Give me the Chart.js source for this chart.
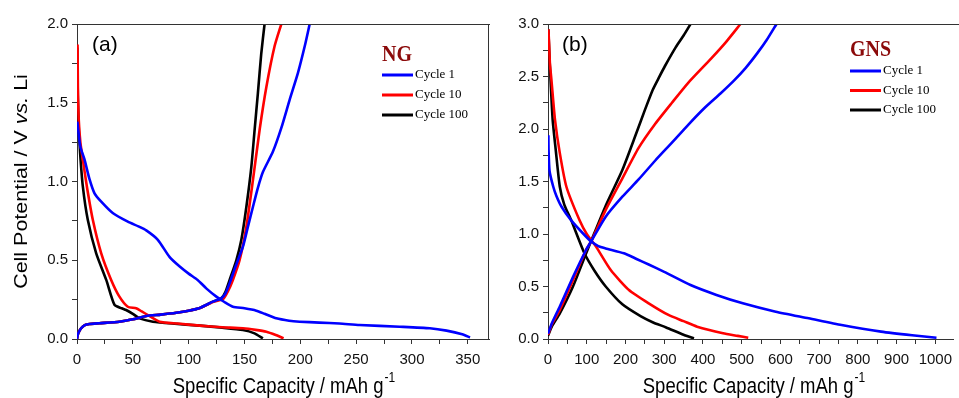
<!DOCTYPE html>
<html>
<head>
<meta charset="utf-8">
<script src="https://cdn.jsdelivr.net/npm/chart.js@4.4.1/dist/chart.umd.min.js"></script>
<style>
  html, body { margin: 0; padding: 0; background: #fff; }
  #wrap { position: relative; width: 959px; height: 398px; overflow: hidden; }
  canvas { position: absolute; top: 0; }
  #chartA { left: 0; }
  #chartB { left: 490px; }
</style>
</head>
<body>
<div id="wrap">
  <canvas id="chartA" width="490" height="398"></canvas>
  <canvas id="chartB" width="469" height="398"></canvas>
</div>
<script>
// legend names and colours, same for both panels
var cycleNames = ["Cycle 1", "Cycle 10", "Cycle 100"];
var cycleColors = ["#0000FF", "#FF0000", "#000000"];

// (a) NG : [capacity mAh/g, potential V]
var ngC1Discharge = [[0.3,1.38],[3,1.22],[6.7,1.14],[11,1.02],[15.7,0.925],[21.7,0.872],[32,0.80],[45.5,0.745],[55,0.715],[62,0.69],[72.4,0.63],[83,0.52],[92,0.46],[100,0.415],[108,0.375],[116,0.32],[124.8,0.269],[132,0.235],[139.6,0.205],[150,0.195],[160.6,0.18],[168,0.16],[178.5,0.131],[190,0.116],[199.4,0.11],[217,0.104],[235,0.098],[253,0.089],[289,0.078],[316,0.068],[331,0.053],[345,0.03],[352,0.01]];
var ngC1Charge = [[0,0],[1,0.035],[3.7,0.068],[7,0.088],[11.2,0.095],[20,0.10],[38,0.11],[50,0.125],[62,0.146],[75,0.155],[89,0.167],[100,0.18],[110,0.197],[121.7,0.237],[129.2,0.258],[133,0.29],[137,0.36],[142,0.46],[148.6,0.586],[153,0.71],[157.6,0.84],[162,0.96],[166.5,1.06],[175.5,1.19],[183,1.34],[190.5,1.52],[197.9,1.69],[204,1.86],[208.4,2.0]];
var ngC10Discharge = [[0.5,1.87],[0.8,1.6],[1.5,1.4],[3,1.25],[5.2,1.14],[8.8,0.97],[14.2,0.755],[21.7,0.544],[30.6,0.375],[38,0.269],[45.5,0.205],[53,0.195],[58,0.175],[63.5,0.152],[74,0.11],[90,0.098],[110,0.085],[130,0.075],[148.6,0.068],[160,0.058],[169.6,0.046],[178,0.025],[185,0.004]];
var ngC10Charge = [[0,0],[1,0.035],[3.7,0.068],[7,0.088],[11.2,0.095],[20,0.10],[38,0.11],[50,0.125],[62,0.146],[75,0.155],[89,0.167],[100,0.18],[110,0.197],[121.7,0.235],[131,0.255],[135,0.3],[139.6,0.375],[145.6,0.50],[151.7,0.713],[157.6,1.01],[163.6,1.33],[169.6,1.60],[177,1.86],[183,2.0]];
var ngC100Discharge = [[0.3,1.85],[0.7,1.55],[1.5,1.35],[2.8,1.18],[5.2,0.97],[9.7,0.755],[17.2,0.544],[26.2,0.375],[33.6,0.216],[40,0.195],[44,0.184],[50,0.16],[56,0.131],[68,0.11],[85,0.098],[110,0.085],[130,0.072],[148.6,0.057],[159,0.036],[166.5,0.004]];
var ngC100Charge = [[0,0],[1,0.035],[3.7,0.068],[7,0.088],[11.2,0.095],[20,0.10],[38,0.11],[50,0.125],[62,0.146],[75,0.155],[89,0.167],[100,0.18],[110,0.197],[121.7,0.237],[129.2,0.258],[133,0.3],[136.7,0.375],[142.7,0.50],[147.2,0.63],[151.7,0.84],[156.1,1.09],[159.1,1.33],[162,1.56],[165,1.81],[168,2.0]];

// (b) GNS
var gnsC1Discharge = [[1,1.94],[1.5,1.8],[4,1.6],[13.6,1.45],[22,1.36],[35,1.26],[60,1.13],[90,1.007],[111,0.93],[130,0.885],[149,0.863],[196,0.816],[230,0.76],[260,0.71],[300,0.64],[368,0.514],[435,0.42],[503,0.34],[588,0.26],[673,0.197],[758,0.133],[860,0.07],[940,0.035],[1003,0.012]];
var gnsC1Charge = [[0,0.05],[10,0.15],[30.5,0.31],[64.5,0.59],[98.5,0.85],[111,0.927],[149,1.165],[192,1.355],[234,1.52],[277,1.70],[320,1.87],[362,2.04],[404,2.20],[446,2.34],[480,2.46],[510,2.58],[540,2.72],[565,2.85],[590,3.0]];
var gnsC10Discharge = [[1,2.95],[3,2.8],[5,2.62],[9.3,2.45],[18,2.09],[30.5,1.77],[47.5,1.45],[81.5,1.13],[100,1.0],[124,0.88],[162,0.657],[209,0.467],[260,0.34],[311,0.229],[350,0.17],[385,0.117],[452,0.054],[490,0.03],[517,0.012]];
var gnsC10Charge = [[0,0.04],[10,0.14],[30.5,0.276],[64.5,0.56],[98.5,0.85],[111,0.927],[149,1.23],[192,1.53],[234,1.82],[277,2.05],[320,2.25],[362,2.44],[421,2.67],[460,2.83],[497,3.0]];
var gnsC100Discharge = [[1,2.95],[3,2.75],[6.8,2.45],[12,2.09],[20,1.8],[30.5,1.45],[42,1.28],[60,1.13],[94,0.816],[120,0.65],[149,0.50],[192,0.33],[240,0.215],[270,0.16],[305,0.11],[350,0.04],[377,0.006]];
var gnsC100Charge = [[0,0.03],[10,0.12],[30.5,0.244],[64.5,0.50],[98.5,0.816],[111,0.93],[149,1.27],[192,1.61],[226,1.94],[250,2.18],[270,2.37],[285,2.48],[302,2.60],[330,2.78],[350,2.89],[368,3.0]];

var axisColor = "#333333";
var sansFont = "'Liberation Sans', Arial, sans-serif";
var serifFont = "'Liberation Serif', 'Times New Roman', serif";

function toPoints(arr) {
    return arr.map(function (p) { return { x: p[0], y: p[1] }; });
}

function makeDatasets(discharges, charges) {
    var sets = [];
    for (var i = 0; i < cycleNames.length; i++) {
        sets.push({ label: cycleNames[i], data: toPoints(discharges[i]), borderColor: cycleColors[i] });
        sets.push({ label: cycleNames[i], data: toPoints(charges[i]), borderColor: cycleColors[i] });
    }
    sets.forEach(function (s) {
        s.borderWidth = 2.6;
        s.pointRadius = 0;
        s.tension = 0.2;
        s.fill = false;
    });
    return sets;
}

// writes text with a small vertical stretch, like the original figure
function stretchedText(ctx, text, x, y, sy) {
    ctx.save();
    ctx.translate(x, y);
    ctx.scale(1, sy);
    ctx.fillText(text, 0, 0);
    ctx.restore();
}

// draws frame, panel letter, legend and axis titles
function panelDeco(o) {
    return {
        id: "deco" + o.letter,
        afterDraw: function (chart) {
            var ctx = chart.ctx, a = chart.chartArea;
            ctx.save();

            ctx.strokeStyle = axisColor;
            ctx.lineWidth = 1;
            ctx.beginPath();
            ctx.moveTo(a.left, a.top + 0.5);
            ctx.lineTo(chart.width, a.top + 0.5);
            if (o.rightFrame) {
                ctx.moveTo(a.right - 0.5, a.top);
                ctx.lineTo(a.right - 0.5, a.bottom);
            }
            ctx.stroke();

            ctx.fillStyle = "#000";
            ctx.textAlign = "left";
            ctx.textBaseline = "middle";
            ctx.font = "21px " + sansFont;
            ctx.fillText(o.letter, o.letterX, 45);

            // legend
            ctx.textBaseline = "alphabetic";
            ctx.fillStyle = "#8B0A0A";
            ctx.font = "bold 20px " + serifFont;
            stretchedText(ctx, o.title, o.legX, o.titleY, 1.16);
            ctx.font = "13px " + serifFont;
            ctx.textBaseline = "middle";
            for (var i = 0; i < cycleNames.length; i++) {
                var ry = o.rowY + i * o.rowGap;
                ctx.strokeStyle = cycleColors[i];
                ctx.lineWidth = 3;
                ctx.beginPath();
                ctx.moveTo(o.legX, ry);
                ctx.lineTo(o.legX + 31, ry);
                ctx.stroke();
                ctx.fillStyle = "#000";
                ctx.fillText(cycleNames[i], o.legX + 33, ry);
            }

            // x title with superscript
            ctx.textBaseline = "alphabetic";
            ctx.font = "18.5px " + sansFont;
            var main = "Specific Capacity / mAh g";
            var wMain = ctx.measureText(main).width;
            ctx.font = "12px " + sansFont;
            var wSup = ctx.measureText("-1").width;
            var cx = (a.left + chart.width) / 2;
            var x0 = cx - (wMain + wSup) / 2;
            ctx.font = "18.5px " + sansFont;
            stretchedText(ctx, main, x0, 393, 1.16);
            ctx.font = "12px " + sansFont;
            stretchedText(ctx, "-1", x0 + wMain + 1, 382, 1.16);

            // y title
            if (o.yTitle) {
                var parts = [["Cell Potential / V ", ""], ["vs.", "italic "], [" Li", ""]];
                var total = 0;
                parts.forEach(function (p) {
                    ctx.font = p[1] + "18.5px " + sansFont;
                    total += ctx.measureText(p[0]).width;
                });
                ctx.save();
                ctx.translate(27, (a.top + a.bottom) / 2);
                ctx.rotate(-Math.PI / 2);
                ctx.scale(1.16, 1);
                var px = -total / 2;
                parts.forEach(function (p) {
                    ctx.font = p[1] + "18.5px " + sansFont;
                    ctx.fillText(p[0], px, 0);
                    px += ctx.measureText(p[0]).width;
                });
                ctx.restore();
            }
            ctx.restore();
        }
    };
}

function makeChart(canvasId, datasets, xMax, xStep, xLabelStep, yMax, yWidth, deco) {
    var tickFont = { family: sansFont, size: 15 };
    return new Chart(document.getElementById(canvasId).getContext("2d"), {
        type: "line",
        data: { datasets: datasets },
        options: {
            responsive: false,
            animation: false,
            layout: { padding: { top: 24, right: deco.rightFrame ? 1 : 0, left: 0, bottom: 0 } },
            plugins: { legend: { display: false }, tooltip: { enabled: false } },
            scales: {
                x: {
                    type: "linear",
                    min: 0,
                    max: xMax,
                    border: { display: true, color: axisColor, width: 1 },
                    grid: { drawOnChartArea: false, drawTicks: true, tickLength: 5, color: axisColor },
                    ticks: {
                        stepSize: xStep,
                        includeBounds: false,
                        autoSkip: false,
                        maxRotation: 0,
                        padding: 7,
                        color: "#111",
                        font: tickFont,
                        callback: function (v) { return v % xLabelStep === 0 ? String(v) : ""; }
                    },
                    afterFit: function (s) { s.height = 59; }
                },
                y: {
                    type: "linear",
                    min: 0,
                    max: yMax,
                    border: { display: true, color: axisColor, width: 1 },
                    grid: { drawOnChartArea: false, drawTicks: true, tickLength: 5, color: axisColor },
                    ticks: {
                        stepSize: 0.25,
                        autoSkip: false,
                        padding: 4,
                        color: "#111",
                        font: tickFont,
                        callback: function (v) { return Math.abs(v * 2 - Math.round(v * 2)) < 1e-6 ? v.toFixed(1) : ""; }
                    },
                    afterFit: function (s) { s.width = yWidth; }
                }
            }
        },
        plugins: [panelDeco(deco)]
    });
}

var chartA = makeChart("chartA",
    makeDatasets([ngC1Discharge, ngC10Discharge, ngC100Discharge], [ngC1Charge, ngC10Charge, ngC100Charge]),
    369, 25, 50, 2.0, 77,
    { letter: "(a)", letterX: 92, title: "NG", legX: 382, titleY: 61, rowY: 75, rowGap: 20, rightFrame: true, yTitle: true });

var chartB = makeChart("chartB",
    makeDatasets([gnsC1Discharge, gnsC10Discharge, gnsC100Discharge], [gnsC1Charge, gnsC10Charge, gnsC100Charge]),
    1047, 50, 100, 3.0, 58,
    { letter: "(b)", letterX: 72, title: "GNS", legX: 360, titleY: 56, rowY: 71, rowGap: 19.5, rightFrame: false, yTitle: false });
</script>
</body>
</html>
